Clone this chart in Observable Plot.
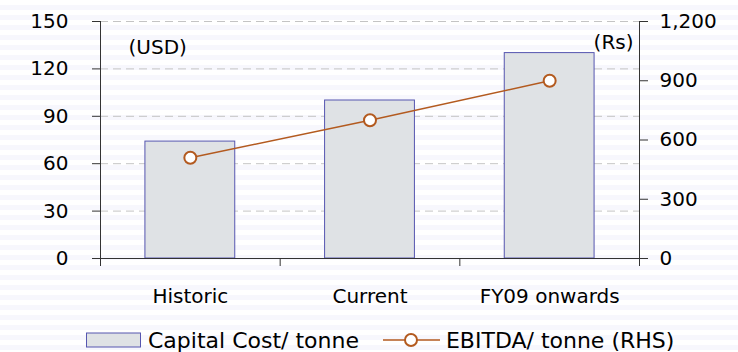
<!DOCTYPE html>
<html>
<head>
<meta charset="utf-8">
<script src="https://cdn.jsdelivr.net/npm/d3@7"></script>
<script src="https://cdn.jsdelivr.net/npm/@observablehq/plot@0.6"></script>
<style>
  html, body { margin: 0; padding: 0; }
  body {
    width: 738px; height: 352px; overflow: hidden; position: relative;
    font-family: "DejaVu Sans", Tahoma, sans-serif;
    background: repeating-linear-gradient(to bottom, #ffffff 0px, #ffffff 5px, #f7f7fd 5px, #f7f7fd 10px);
  }
  #chart svg { background: transparent; display: block; }
  #legend {
    position: absolute; left: 86px; top: 326px; height: 28px;
    display: flex; align-items: center;
    font-size: 22px; color: #000; white-space: nowrap;
  }
  .item { display: flex; align-items: center; }
  .item svg { display: block; }
</style>
</head>
<body>
<div id="chart"></div>
<div id="legend">
  <div class="item" style="margin-right:24px">
    <svg width="55" height="16" style="margin-right:7px"><rect x="0.5" y="1" width="54" height="14" fill="#dfe2e5" stroke="#5656b0" stroke-width="1"></rect></svg>
    <span>Capital Cost/ tonne</span>
  </div>
  <div class="item">
    <svg width="57" height="16" style="margin-right:6px"><line x1="0" y1="8" x2="57" y2="8" stroke="#b35a1f" stroke-width="1.5"></line><circle cx="28" cy="8" r="6" fill="#fff" stroke="#b35a1f" stroke-width="2"></circle></svg>
    <span>EBITDA/ tonne (RHS)</span>
  </div>
</div>
<script>
const categories = ["Historic", "Current", "FY09 onwards"];
const capitalCost = [74, 100, 130];        // USD per tonne (LHS)
const ebitda = [510, 700, 900];            // Rs per tonne (RHS)
const leftTicks = [0, 30, 60, 90, 120, 150];
const rightTicks = [0, 300, 600, 900, 1200];
const leftMax = 150, rightMax = 1200;

const ratio = leftMax / rightMax;
const data = categories.map((c, i) => ({category: c, idx: i, capex: capitalCost[i], ebitda: ebitda[i]}));
const fmt = d3.format(",");

const chart = Plot.plot({
  width: 738,
  height: 320,
  marginTop: 21,
  marginBottom: 62,
  marginLeft: 100,
  marginRight: 99,
  style: {fontFamily: "DejaVu Sans, Tahoma, sans-serif", fontSize: "20px", color: "#000", background: "transparent"},
  x: {domain: [0, categories.length]},
  y: {domain: [0, leftMax]},
  marks: [
    Plot.ruleY(leftTicks.filter(d => d > 0), {stroke: "#c4c4c4", strokeDasharray: "8,5", strokeWidth: 1}),
    Plot.rectY(data, {x1: d => d.idx + 0.25, x2: d => d.idx + 0.75, y1: 0, y2: "capex", fill: "#dfe2e5", stroke: "#5656b0", strokeWidth: 1}),
    Plot.ruleY([0], {stroke: "#333", strokeWidth: 1}),
    Plot.frame({anchor: "left", stroke: "#333"}),
    Plot.frame({anchor: "right", stroke: "#333"}),
    Plot.axisY({anchor: "left", ticks: leftTicks, tickSize: 8, tickPadding: 24, tickFormat: d => d, label: null, stroke: "#333"}),
    Plot.axisY({anchor: "right", ticks: rightTicks.map(d => d * ratio), tickSize: 8, tickPadding: 12, tickFormat: d => fmt(Math.round(d / ratio)), label: null, stroke: "#333"}),
    Plot.axisX({anchor: "bottom", ticks: d3.range(categories.length + 1), tickSize: 8, tickFormat: () => "", label: null, stroke: "#333"}),
    Plot.axisX({anchor: "bottom", ticks: categories.map((c, i) => i + 0.5), tickSize: 0, tickPadding: 30, tickFormat: d => categories[Math.floor(d)], label: null}),
    Plot.line(data, {x: d => d.idx + 0.5, y: d => d.ebitda * ratio, stroke: "#b35a1f", strokeWidth: 1.5}),
    Plot.dot(data, {x: d => d.idx + 0.5, y: d => d.ebitda * ratio, r: 6, fill: "#fff", stroke: "#b35a1f", strokeWidth: 2}),
    Plot.text(["(USD)"], {frameAnchor: "top-left", dx: 28, dy: 18, textAnchor: "start", lineAnchor: "top", fontSize: 20}),
    Plot.text(["(Rs)"], {frameAnchor: "top-right", dx: -6, dy: 13, textAnchor: "end", lineAnchor: "top", fontSize: 20})
  ]
});
document.getElementById("chart").appendChild(chart);
</script>
</body>
</html>
